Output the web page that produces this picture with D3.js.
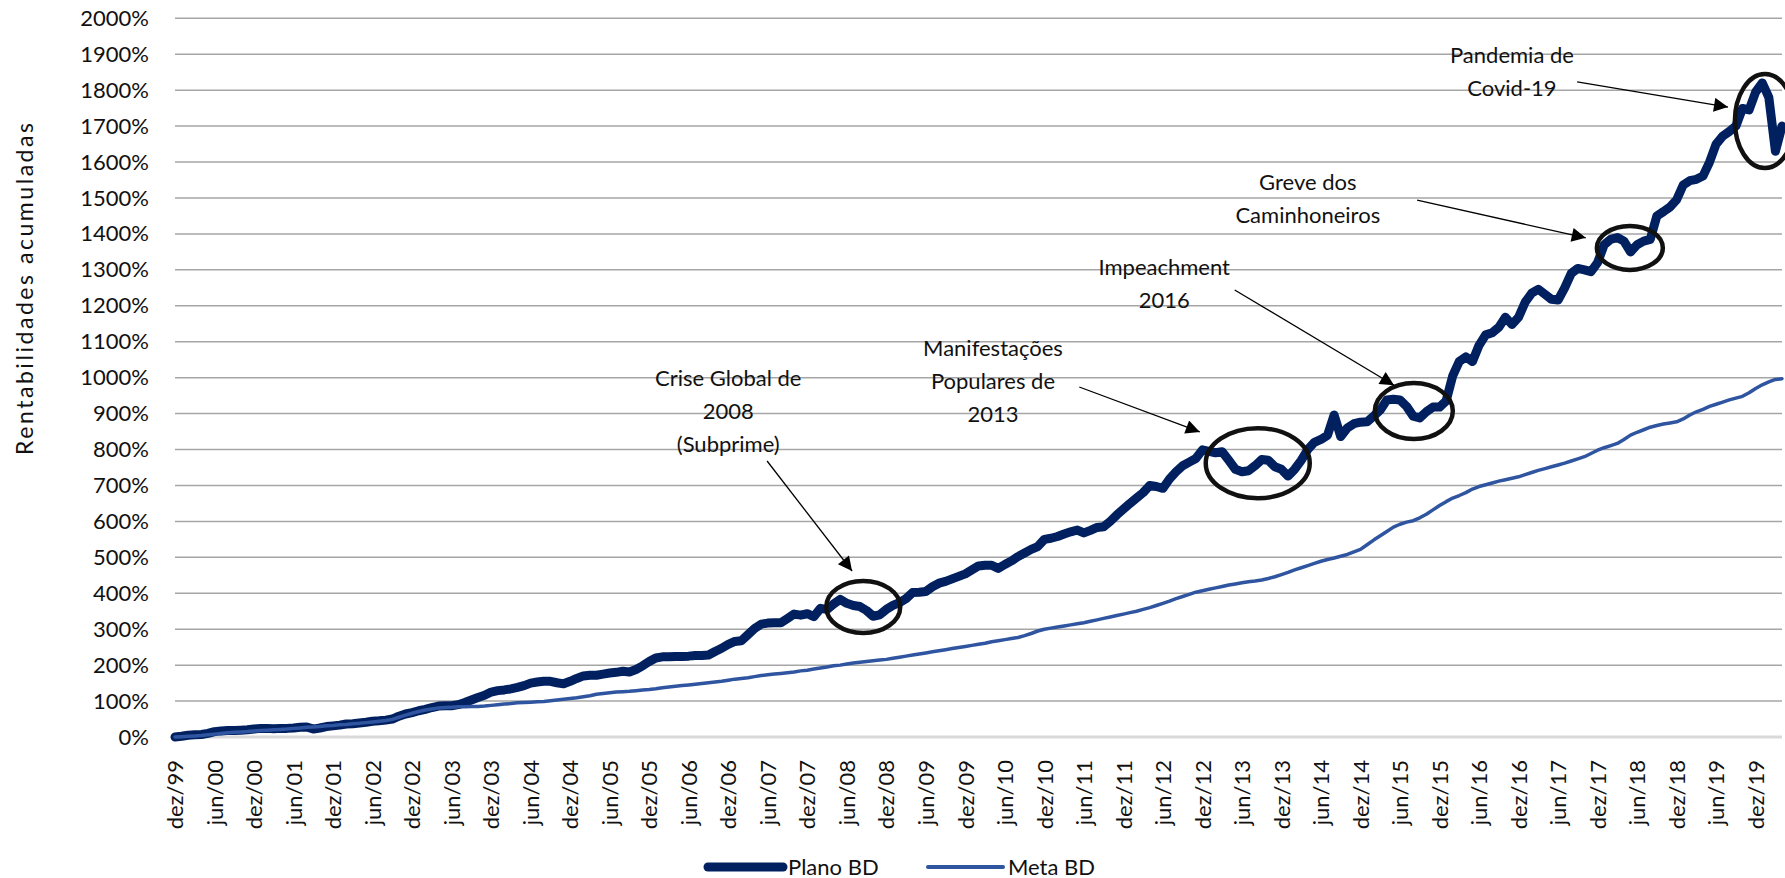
<!DOCTYPE html>
<html>
<head>
<meta charset="utf-8">
<script src="https://cdn.jsdelivr.net/npm/d3@7"></script>
<style>
  body { margin: 0; background: #fff; }
  svg { display: block; font-family: Lato, "Open Sans", sans-serif; }
</style>
</head>
<body>
<svg id="chart" width="1785" height="878"></svg>
<script>
// one label every six months, starting at dez/99
var tickLabels = ["dez/99", "jun/00", "dez/00", "jun/01", "dez/01", "jun/02", "dez/02", "jun/03", "dez/03",
    "jun/04", "dez/04", "jun/05", "dez/05", "jun/06", "dez/06", "jun/07", "dez/07", "jun/08", "dez/08",
    "jun/09", "dez/09", "jun/10", "dez/10", "jun/11", "dez/11", "jun/12", "dez/12", "jun/13", "dez/13",
    "jun/14", "dez/14", "jun/15", "dez/15", "jun/16", "dez/16", "jun/17", "dez/17", "jun/18", "dez/18",
    "jun/19", "dez/19"];

var yTicks = [0, 100, 200, 300, 400, 500, 600, 700, 800, 900, 1000,
    1100, 1200, 1300, 1400, 1500, 1600, 1700, 1800, 1900, 2000];

// monthly accumulated return (%), dez/99 .. abr/20
var plano = [
    0, 2, 5, 6, 7, 10, 15, 17, 18, 18, 19, 20,
    22, 24, 24, 23, 24, 24, 25, 27, 28, 22, 25, 29,
    31, 33, 36, 37, 39, 41, 44, 45, 47, 50, 58, 64,
    68, 73, 77, 82, 86, 87, 87, 90, 96, 103, 110, 116,
    125, 129, 131, 134, 138, 143, 150, 153, 155, 155, 151, 148,
    155, 163, 170, 172, 172, 175, 178, 180, 183, 181, 188, 198,
    210, 220, 223, 223, 224, 224, 225, 227, 227, 228, 238, 247,
    258, 266, 268, 285, 302, 314, 317, 318, 318, 330, 342, 339,
    343, 335, 358, 355, 370, 383, 372, 366, 363, 352, 336, 340,
    355, 366, 374, 385, 402, 403, 405, 418, 428, 433, 440, 447,
    454, 465, 476, 478, 478, 469, 480, 490, 502, 512, 522, 530,
    550, 553, 558, 565, 571, 576, 568, 575, 583, 585, 600, 618,
    634, 650, 665, 680, 700, 697, 692, 718, 738, 755, 765, 775,
    799, 795, 791, 794, 770, 745, 738, 741, 755, 772, 770, 752,
    745, 726, 745, 770, 800, 820, 828, 840, 896, 836, 860, 872,
    876, 877, 893, 910, 938, 940, 938, 920, 893, 888, 905, 918,
    918, 935, 1005, 1045, 1058, 1045, 1090, 1119, 1125, 1140, 1168, 1148,
    1168, 1210, 1235, 1246, 1232, 1218, 1216, 1250, 1290, 1304, 1300, 1295,
    1320, 1370, 1385, 1390, 1380, 1350, 1370, 1380, 1385, 1450, 1462, 1475,
    1495, 1536, 1548, 1552, 1561, 1600, 1650, 1672, 1685, 1700, 1749, 1745,
    1795, 1820, 1780, 1630, 1700];

var meta = [
    0, 1, 2, 3, 4, 6, 8, 10, 12, 13, 14, 15,
    17, 18, 19, 20, 21, 22, 24, 25, 27, 28, 29, 31,
    32, 34, 35, 37, 38, 40, 42, 44, 46, 49, 55, 61,
    66, 71, 75, 78, 81, 82, 83, 84, 84, 85, 85, 86,
    88, 90, 92, 93, 95, 96, 97, 98, 99, 101, 103, 105,
    107, 109, 112, 115, 119, 121, 123, 125, 126, 127, 129, 131,
    132, 134, 137, 139, 141, 143, 145, 147, 149, 151, 153, 155,
    158, 161, 163, 165, 168, 171, 173, 175, 177, 179, 181, 184,
    186, 189, 192, 195, 198, 200, 203, 206, 208, 210, 212, 214,
    216, 219, 222, 225, 228, 231, 234, 237, 240, 243, 246, 249,
    252, 255, 258, 261, 265, 268, 271, 274, 277, 282, 288, 295,
    300, 303, 306, 309, 312, 315, 318, 322, 326, 330, 334, 338,
    342, 346, 350, 355, 360, 366, 372, 378, 385, 391, 397, 403,
    407, 411, 415, 419, 423, 426, 429, 432, 434, 437, 441, 446,
    452, 458, 465, 471, 477, 483, 489, 494, 498, 503, 508, 515,
    522, 535, 548, 560, 572, 584, 592, 598, 602, 610, 620, 632,
    644, 655, 665, 672, 680, 690, 697, 702, 707, 712, 716, 720,
    724, 730, 736, 742, 747, 752, 757, 762, 768, 774, 780, 789,
    798, 805, 811, 817, 828, 840, 848, 855, 862, 867, 871, 874,
    877, 885, 896, 905, 912, 920, 926, 932, 938, 943, 948, 958,
    970, 980, 988, 995, 997];

var seriesNames = ["Plano BD", "Meta BD"];

// events: label lines, text anchor, arrow start/end and ring centre as [month index, %]
var events = [
    {lines: ["Crise Global de", "2008", "(Subprime)"], text: [84.0, 999], from: [89.9, 768], to: [102.8, 462], ring: [104.5, 362], rx: 37, ry: 26},
    {lines: ["Manifestações", "Populares de", "2013"], text: [124.2, 1082], from: [137.3, 974], to: [155.6, 849], ring: [164.4, 762], rx: 52, ry: 35},
    {lines: ["Impeachment", "2016"], text: [150.2, 1308], from: [160.9, 1244], to: [185.1, 979], ring: [188.1, 907], rx: 39, ry: 28},
    {lines: ["Greve dos", "Caminhoneiros"], text: [172.0, 1544], from: [188.6, 1494], to: [214.2, 1389], ring: [220.9, 1361], rx: 33, ry: 22},
    {lines: ["Pandemia de", "Covid-19"], text: [203.0, 1898], from: [212.9, 1823], to: [235.8, 1753], ring: [241.4, 1714], rx: 30, ry: 47}
];

var svg = d3.select("#chart");
var plotLeft = 175, plotRight = 1782, plotTop = 18.3, plotBottom = 737;

var x = d3.scaleLinear().domain([0, plano.length - 1]).range([plotLeft, plotRight]);
var y = d3.scaleLinear().domain([0, 2000]).range([plotBottom, plotTop]);

// gridlines
svg.append("g").selectAll("line")
    .data(yTicks.slice(1)).enter()
    .append("line")
    .attr("x1", plotLeft).attr("x2", plotRight)
    .attr("y1", d => y(d)).attr("y2", d => y(d))
    .attr("stroke", "#a6a6a6").attr("stroke-width", 1.5);

svg.append("line")
    .attr("x1", plotLeft).attr("x2", plotRight)
    .attr("y1", y(0)).attr("y2", y(0))
    .attr("stroke", "#d9d9d9").attr("stroke-width", 3);

// y axis labels
var yAxis = svg.append("g")
    .attr("transform", "translate(" + plotLeft + ",0)")
    .call(d3.axisLeft(y).tickValues(yTicks).tickFormat(d => d + "%").tickSize(0).tickPadding(26));
yAxis.select(".domain").remove();
yAxis.selectAll("text").attr("font-size", 22).attr("fill", "#111").attr("font-family", "Lato, sans-serif");

// x axis labels, rotated
var xAxis = svg.append("g")
    .attr("transform", "translate(0," + plotBottom + ")")
    .call(d3.axisBottom(x).tickValues(d3.range(0, tickLabels.length * 6, 6))
        .tickFormat((d, i) => tickLabels[i]).tickSize(0));
xAxis.select(".domain").remove();
xAxis.selectAll("text")
    .attr("transform", "rotate(-90)")
    .attr("text-anchor", "end")
    .attr("x", -23).attr("y", 0).attr("dy", "0.35em")
    .attr("font-size", 22).attr("fill", "#111").attr("font-family", "Lato, sans-serif");

// axis title
svg.append("text")
    .attr("transform", "translate(25,289) rotate(-90)")
    .attr("text-anchor", "middle").attr("dy", "0.35em")
    .attr("font-size", 23).attr("fill", "#111")
    .attr("textLength", 332).attr("lengthAdjust", "spacing")
    .text("Rentabilidades acumuladas");

// series
var lineMaker = d3.line()
    .x((d, i) => x(i))
    .y(d => y(d));

svg.append("path")
    .attr("fill", "none").attr("stroke", "#002060").attr("stroke-width", 9)
    .attr("stroke-linejoin", "round").attr("stroke-linecap", "round")
    .attr("d", lineMaker(plano));

svg.append("path")
    .attr("fill", "none").attr("stroke", "#2f55a0").attr("stroke-width", 3.5)
    .attr("stroke-linejoin", "round").attr("stroke-linecap", "round")
    .attr("d", lineMaker(meta));

// annotations
svg.append("defs").append("marker")
    .attr("id", "head").attr("viewBox", "0 0 10 10")
    .attr("refX", 10).attr("refY", 5)
    .attr("markerWidth", 17).attr("markerHeight", 14)
    .attr("markerUnits", "userSpaceOnUse").attr("orient", "auto")
    .append("path").attr("d", "M0,0L10,5L0,10Z").attr("fill", "#000");

var ev = svg.append("g").selectAll("g").data(events).enter().append("g");

ev.append("ellipse")
    .attr("cx", d => x(d.ring[0])).attr("cy", d => y(d.ring[1]))
    .attr("rx", d => d.rx).attr("ry", d => d.ry)
    .attr("fill", "none").attr("stroke", "#111").attr("stroke-width", 4.5);

ev.append("line")
    .attr("x1", d => x(d.from[0])).attr("y1", d => y(d.from[1]))
    .attr("x2", d => x(d.to[0])).attr("y2", d => y(d.to[1]))
    .attr("stroke", "#000").attr("stroke-width", 1.3)
    .attr("marker-end", "url(#head)");

ev.each(function(d) {
    var t = d3.select(this).append("text")
        .attr("text-anchor", "middle").attr("font-size", 22).attr("fill", "#111");
    d.lines.forEach(function(s, k) {
        t.append("tspan")
            .attr("x", x(d.text[0]))
            .attr("y", y(d.text[1]) + k * 33)
            .attr("dy", "0.35em")
            .text(s);
    });
});

// legend
var legend = svg.append("g").attr("transform", "translate(0,867)");
var legendX = [708, 928];
var legendStyle = [{c: "#002060", w: 9}, {c: "#2f55a0", w: 4}];
seriesNames.forEach(function(name, i) {
    legend.append("line")
        .attr("x1", legendX[i]).attr("x2", legendX[i] + 75)
        .attr("y1", 0).attr("y2", 0)
        .attr("stroke", legendStyle[i].c).attr("stroke-width", legendStyle[i].w)
        .attr("stroke-linecap", "round");
    legend.append("text")
        .attr("x", legendX[i] + 80).attr("dy", "0.35em")
        .attr("font-size", 22).attr("fill", "#111")
        .text(name);
});
</script>
</body>
</html>
